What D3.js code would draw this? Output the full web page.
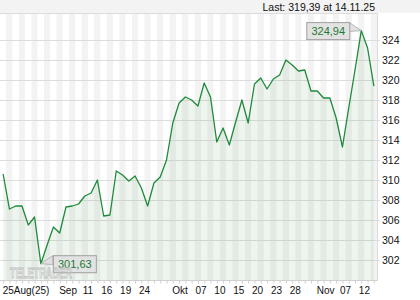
<!DOCTYPE html>
<html>
<head>
<meta charset="utf-8">
<script src="https://cdn.jsdelivr.net/npm/d3@7"></script>
<style>
  body { margin: 0; background: #fff; }
  svg { display: block; font-family: "Liberation Sans", Arial, sans-serif; }
</style>
</head>
<body>
<script>
// trading days on the chart (dd.mm, 2025)
let dates = [
  "25.08", "26.08", "27.08", "28.08", "29.08",
  "01.09", "02.09", "03.09", "04.09", "05.09", "08.09", "09.09", "10.09", "11.09", "12.09",
  "15.09", "16.09", "17.09", "18.09", "19.09", "22.09", "23.09", "24.09", "25.09", "26.09",
  "29.09", "30.09",
  "01.10", "02.10", "03.10", "06.10", "07.10", "08.10", "09.10", "10.10", "13.10", "14.10",
  "15.10", "16.10", "17.10", "20.10", "21.10", "22.10", "23.10", "24.10", "27.10", "28.10",
  "29.10", "30.10", "31.10",
  "03.11", "04.11", "05.11", "06.11", "07.11", "10.11", "11.11", "12.11", "13.11", "14.11"
];

// closing prices
let closes = [
  310.6, 307.1, 307.4, 307.4, 305.5, 306.3, 301.63, 303.5, 305.3, 304.7,
  307.3, 307.4, 307.6, 308.4, 308.7, 310.0, 306.4, 306.5, 310.9, 310.5,
  309.9, 310.4, 309.2, 307.4, 309.7, 310.3, 312.0, 315.7, 317.7, 318.3,
  318.0, 317.4, 319.7, 318.3, 313.8, 315.2, 313.5, 315.8, 318.0, 315.7,
  319.6, 320.2, 319.1, 320.1, 320.5, 322.0, 321.5, 320.9, 321.0, 318.9,
  318.9, 318.2, 318.2, 316.2, 313.3, 317.2, 321.0, 324.94, 323.2, 319.39
];

let yTicks = [302, 304, 306, 308, 310, 312, 314, 316, 318, 320, 322, 324];

let tickDates = ["25.08", "05.09", "11.09", "16.09", "19.09", "24.09", "01.10", "07.10",
  "10.10", "15.10", "20.10", "23.10", "28.10", "03.11", "07.11", "12.11"];
let tickLabels = ["25Aug(25)", "Sep", "11", "16", "19", "24", "Okt", "07",
  "10", "15", "20", "23", "28", "Nov", "07", "12"];

let lastText = "Last: 319,39 at 14.11.25";

// Define SVG area dimensions
let svgWidth = 420;
let svgHeight = 300;

// plot box
let plot = { left: 0, right: 377, top: 13, bottom: 280 };

let svg = d3.select("body")
  .append("svg")
  .attr("width", svgWidth)
  .attr("height", svgHeight);

let xScale = d3.scalePoint()
  .domain(dates)
  .range([plot.left, plot.right])
  .padding(0.5);
let step = xScale.step();

let yScale = d3.scaleLinear()
  .domain([300, 326.7])
  .range([plot.bottom, plot.top]);

// header band
svg.append("rect")
  .attr("x", 0).attr("y", 0)
  .attr("width", svgWidth).attr("height", plot.top)
  .attr("fill", "#f3f3f3");

svg.append("text")
  .attr("x", 375)
  .attr("y", 11)
  .attr("text-anchor", "end")
  .style("font-size", "10.5px")
  .attr("fill", "#111")
  .text(lastText);

// day stripes
svg.append("g")
  .selectAll("rect")
  .data(dates)
  .enter()
  .append("rect")
  .attr("x", d => xScale(d) - step / 2)
  .attr("y", plot.top)
  .attr("width", step)
  .attr("height", plot.bottom - plot.top)
  .attr("fill", (d, i) => i % 2 ? "#f3f3f3" : "#ffffff");

// horizontal grid + right tick labels
let yAxis = d3.axisRight(yScale)
  .tickValues(yTicks)
  .tickSize(plot.right + 3 - plot.left)
  .tickFormat(d3.format("d"));

let yg = svg.append("g")
  .attr("transform", `translate(${plot.left}, 0)`)
  .call(yAxis);
yg.select(".domain").remove();
yg.selectAll(".tick line").attr("stroke", "#dcdcdc");
yg.selectAll(".tick text")
  .attr("x", 382)
  .attr("dy", "0.35em")
  .attr("fill", "#111")
  .style("font-size", "10.5px")
  .style("font-family", "'Liberation Sans', Arial, sans-serif");

// area + line
let area = d3.area()
  .x((d, i) => xScale(dates[i]))
  .y0(plot.bottom)
  .y1(d => yScale(d));

let drawLine = d3.line()
  .x((d, i) => xScale(dates[i]))
  .y(d => yScale(d));

svg.append("path")
  .attr("d", area(closes))
  .attr("fill", "rgba(120,170,120,0.13)");

// frame
svg.append("path")
  .attr("d", `M${plot.left},${plot.top + 0.5}H${plot.right + 0.5}V${plot.bottom + 1}`)
  .attr("fill", "none")
  .attr("stroke", "#dcdcdc");

svg.append("path")
  .attr("d", drawLine(closes))
  .attr("fill", "none")
  .attr("stroke", "#1f8a3b")
  .attr("stroke-width", 1.3)
  .attr("stroke-linejoin", "round");

// bottom axis: baseline and a tick per day
let xAxis = d3.axisBottom(xScale)
  .tickValues(dates)
  .tickSize(3)
  .tickFormat("");
let xg = svg.append("g")
  .attr("transform", `translate(0, ${plot.bottom + 0.5})`)
  .call(xAxis);
xg.select(".domain")
  .attr("d", `M${plot.left},0H${plot.right}`)
  .attr("stroke", "#d0d0d0");
xg.selectAll(".tick line").attr("stroke", "#d0d0d0");

// date labels: month names start at their day, day numbers sit in the day's stripe
svg.append("g")
  .selectAll("text")
  .data(tickDates)
  .enter()
  .append("text")
  .attr("x", (d, i) => /^\d+$/.test(tickLabels[i]) ? xScale(d) + step / 2 : xScale(d) - 0.5)
  .attr("y", 294)
  .attr("text-anchor", (d, i) => /^\d+$/.test(tickLabels[i]) ? "middle" : "start")
  .style("font-size", "10px")
  .attr("fill", "#111")
  .text((d, i) => tickLabels[i]);

// high / low call-outs
function callout(idx, side) {
  let px = xScale(dates[idx]);
  let py = yScale(closes[idx]);
  let label = d3.format(".2f")(closes[idx]).replace(".", ",");
  let w = 43, h = 17, gap = 12;
  let bx = side === "left" ? px - gap - w : px + gap;
  let by = py - h / 2;
  let edge = side === "left" ? bx + w : bx;
  let g = svg.append("g");
  g.append("path")
    .attr("d", `M${edge},${by + 0.5}L${px},${py}L${edge},${by + h * 0.55}Z`)
    .attr("fill", "#e2e2e2")
    .attr("stroke", "#a8a8a8")
    .attr("stroke-width", 0.8);
  g.append("rect")
    .attr("x", bx + 0.5).attr("y", by + 0.5)
    .attr("width", w).attr("height", h)
    .attr("fill", "#e2e2e2")
    .attr("stroke", "#a0a0a0");
  g.append("text")
    .attr("x", bx + w / 2 + 0.5)
    .attr("y", by + h - 4)
    .attr("text-anchor", "middle")
    .style("font-size", "11px")
    .attr("fill", "#1d7a33")
    .text(label);
}
callout(d3.maxIndex(closes), "left");
callout(d3.minIndex(closes), "right");

// watermark, drawn last like in the original
svg.append("text")
  .attr("x", 10)
  .attr("y", 277.5)
  .attr("textLength", 62)
  .attr("lengthAdjust", "spacingAndGlyphs")
  .style("font-size", "15px")
  .style("font-weight", "bold")
  .attr("fill", "none")
  .attr("stroke", "#c0c0c0")
  .attr("stroke-width", 0.8)
  .text("TELETRADER");
</script>
</body>
</html>
